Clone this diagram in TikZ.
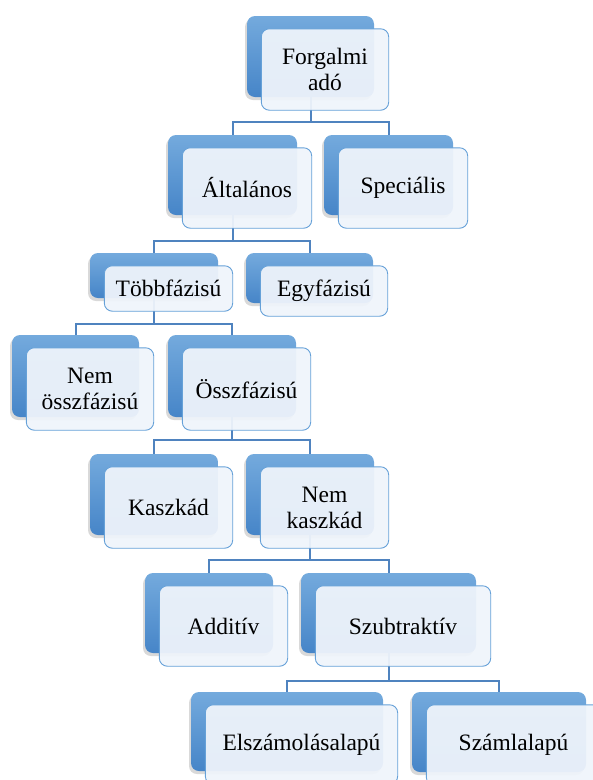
\documentclass[tikz,border=0pt]{standalone}
\usepackage{fontspec}
\setmainfont{Liberation Serif}
\newfontfamily\cardfont{Liberation Serif}
\usetikzlibrary{shadows,calc}
\definecolor{boxtop}{HTML}{74AADD}
\definecolor{boxbot}{HTML}{4685C8}
\definecolor{cardfill}{HTML}{EFF4FB}
\definecolor{cardline}{HTML}{66A1D8}
\definecolor{linkblue}{HTML}{4F83BF}

\begin{document}
\begin{tikzpicture}[x=1pt, y=-1pt,
    back/.style={rounded corners=8pt, top color=boxtop, bottom color=boxbot,
        draw=none, inner sep=0pt,
        drop shadow={shadow xshift=-2pt, shadow yshift=-3pt, opacity=.3}},
    card/.style={rounded corners=8pt, fill=cardfill, fill opacity=.94,
        text opacity=1, draw=cardline, line width=0.9pt, inner sep=2pt,
        align=center, font=\cardfont\fontsize{23.5}{26}\selectfont},
    link/.style={draw=linkblue, line width=2pt}]
    \useasboundingbox (0,0) rectangle (593,780);
    \clip (0,0) rectangle (593,780);
    % back boxes
    \foreach \k/\x/\y/\w/\h in {forgalmi/310.5/56.5/127/81, altalanos/232.5/175/129/80,
        specialis/388.5/175/129/80, tobb/154/275.5/128/45, egy/309.5/278/127/50,
        nemossz/75.5/376/127/82, ossz/232/376/128/82, kaszkad/154/494.5/128/81,
        nemkaszkad/310/494.5/128/81, additiv/209/613/128/80, szubtr/388.5/613/175/80,
        elszam/287/731.5/192/79, szamla/499/732/174/80} {
        \node[back, minimum width=\w, minimum height=\h] (\k) at (\x,\y) {};
    }
    % connectors
    \foreach \p/\c/\d in {forgalmi/altalanos/25, forgalmi/specialis/25,
        altalanos/tobb/26, altalanos/egy/26, tobb/nemossz/26, tobb/ossz/26,
        ossz/kaszkad/23, ossz/nemkaszkad/23, nemkaszkad/additiv/25,
        nemkaszkad/szubtr/25, szubtr/elszam/28, szubtr/szamla/28} {
        \draw[link] (\p.south) -- ++(0,\d) -| (\c.north);
    }
    % front cards
    \foreach \k/\t in {forgalmi/{Forgalmi\\adó}, altalanos/Általános, specialis/Speciális,
        tobb/Többfázisú, egy/Egyfázisú, nemossz/{Nem\\összfázisú}, ossz/Összfázisú,
        kaszkad/Kaszkád, nemkaszkad/{Nem\\kaszkád}, additiv/Additív,
        szubtr/Szubtraktív, elszam/Elszámolásalapú, szamla/Számlalapú} {
        \path let \p1 = ($(\k.north east)-(\k.south west)$) in
            node[card, minimum width=\x1, minimum height=\y1] (\k-card)
            at ([xshift=14.5pt, yshift=-13pt]\k.center) {\t};
    }
\end{tikzpicture}
\end{document}
